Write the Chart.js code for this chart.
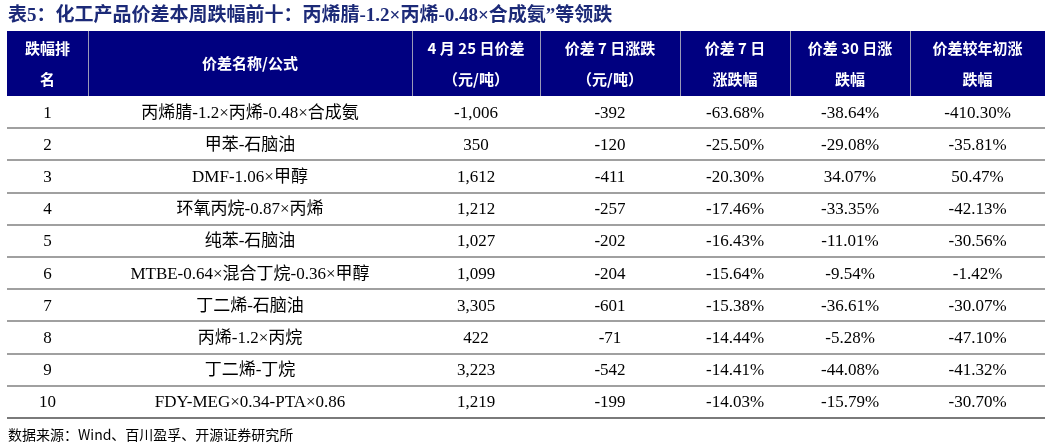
<!DOCTYPE html><html><head><meta charset="utf-8">
<script src="https://cdn.jsdelivr.net/npm/chart.js@4"></script>
<style>html,body{margin:0;background:#fff}#w{width:1052px;height:446px}</style></head><body>
<div id="w"><canvas id="c"></canvas></div>
<script>
const ranks=["1","2","3","4","5","6","7","8","9","10"];
const names=["丙烯腈-1.2×丙烯-0.48×合成氨","甲苯-石脑油","DMF-1.06×甲醇","环氧丙烷-0.87×丙烯","纯苯-石脑油","MTBE-0.64×混合丁烷-0.36×甲醇","丁二烯-石脑油","丙烯-1.2×丙烷","丁二烯-丁烷","FDY-MEG×0.34-PTA×0.86"];
const spread=["-1,006","350","1,612","1,212","1,027","1,099","3,305","422","3,223","1,219"];
const chg7=["-392","-120","-411","-257","-202","-204","-601","-71","-542","-199"];
const pct7=["-63.68%","-25.50%","-20.30%","-17.46%","-16.43%","-15.64%","-15.38%","-14.44%","-14.41%","-14.03%"];
const pct30=["-38.64%","-29.08%","34.07%","-33.35%","-11.01%","-9.54%","-36.61%","-5.28%","-44.08%","-15.79%"];
const pctYtd=["-410.30%","-35.81%","50.47%","-42.13%","-30.56%","-1.42%","-30.07%","-47.10%","-41.32%","-30.70%"];
const headers=[["跌幅排","名"],["价差名称/公式"],["4 月 25 日价差","（元/吨）"],["价差 7 日涨跌","（元/吨）"],["价差 7 日","涨跌幅"],["价差 30 日涨","跌幅"],["价差较年初涨","跌幅"]];
const colEdges=[7,88,412,540,680,790,910,1045];
const FONT='"Liberation Serif","Noto Sans CJK SC",serif';
const tablePlugin={id:'tbl',afterDraw(ch){
 const c=ch.ctx,y=ch.scales.y,top=ch.chartArea.top,bot=ch.chartArea.bottom;
 c.save();
 c.fillStyle='#1c2a78';c.font='bold 19px "Liberation Serif","Noto Sans CJK SC",serif';c.textBaseline='middle';c.textAlign='left';
 c.fillText('表5：化工产品价差本周跌幅前十：丙烯腈-1.2×丙烯-0.48×合成氨”等领跌',8,16);
 c.fillStyle='#000080';c.fillRect(7,31,1038,top-31);
 c.strokeStyle='#9a9ab8';c.lineWidth=1;
 for(let i=1;i<colEdges.length-1;i++){c.beginPath();c.moveTo(colEdges[i]+.5,31);c.lineTo(colEdges[i]+.5,top);c.stroke();}
 c.fillStyle='#fff';c.font='bold 15px "Noto Sans CJK SC","Liberation Serif",serif';c.textAlign='center';
 headers.forEach((h,i)=>{const x=(colEdges[i]+colEdges[i+1])/2;
  if(h.length==1)c.fillText(h[0],x,(31+top)/2);else{c.fillText(h[0],x,48);c.fillText(h[1],x,79);}});
 const cols=[ranks,names,spread,chg7,pct7,pct30,pctYtd];
 c.fillStyle='#000';c.font='17px '+FONT;
 ranks.forEach((r,k)=>{const yy=y.getPixelForValue(k);
  cols.forEach((arr,i)=>{c.fillText(arr[k],(colEdges[i]+colEdges[i+1])/2,yy+1);});
  if(k<ranks.length-1){const ly=Math.round((yy+y.getPixelForValue(k+1))/2);c.fillStyle='#a0a0a0';c.fillRect(7,ly-1,1038,2);c.fillStyle='#000';}
 });
 c.fillStyle='#7a7a7a';c.fillRect(7,bot-1,1038,2);
 c.fillStyle='#000';c.textAlign='left';c.font='14px "Noto Sans CJK SC",serif';
 c.fillText('数据来源：Wind、百川盈孚、开源证券研究所',8,435);
 c.restore();}};
new Chart(document.getElementById('c'),{type:'bar',data:{labels:ranks,datasets:[{data:ranks.map(()=>null)}]},
 options:{responsive:true,maintainAspectRatio:false,animation:false,indexAxis:'y',
 layout:{padding:{top:96,bottom:28,left:7,right:7}},
 plugins:{legend:{display:false},tooltip:{enabled:false}},
 scales:{x:{display:false,min:0,max:1},y:{display:false,offset:true}}},plugins:[tablePlugin]});
</script></body></html>
